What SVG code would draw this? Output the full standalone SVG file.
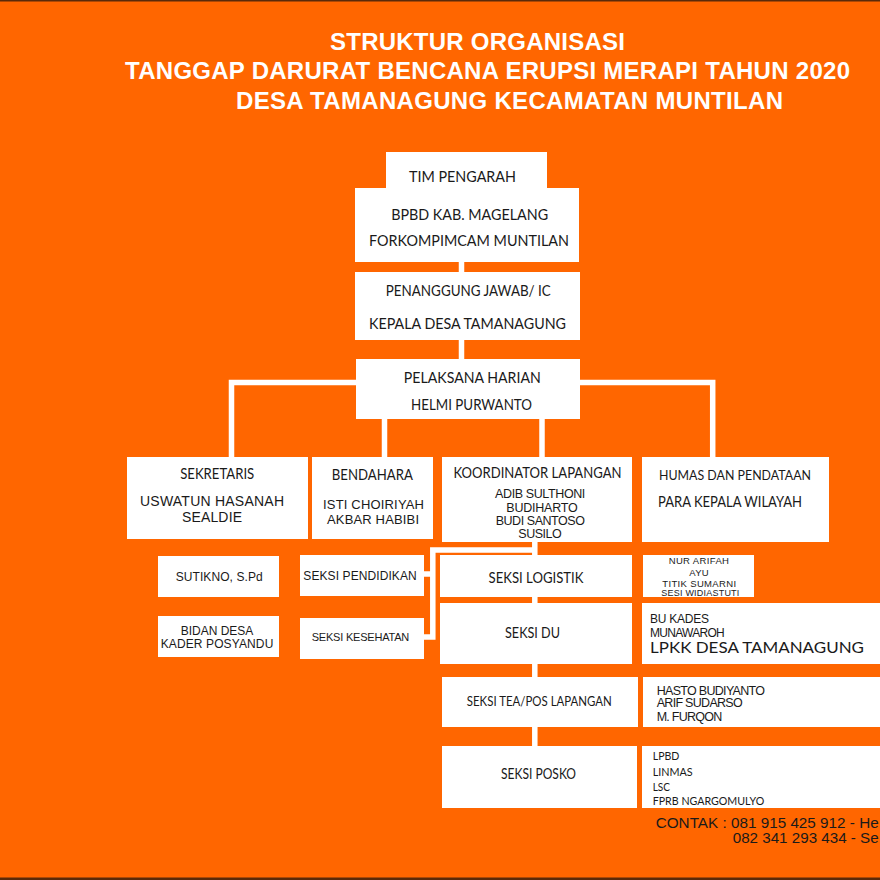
<svg xmlns="http://www.w3.org/2000/svg" width="880" height="880" viewBox="0 0 880 880">
<style>
.bg{fill:#ff6600}
.box{fill:#ffffff}
.c{font-family:Lato,"Open Sans","Noto Sans",sans-serif;fill:#1a1a1a;text-anchor:middle}
.a{font-family:"Liberation Sans",Arial,sans-serif;fill:#1a1a1a;text-anchor:middle}
.l{text-anchor:start}
.t{font-family:"Liberation Sans",Arial,sans-serif;font-weight:bold;fill:#ffffff;font-size:24px}
.link{stroke:#ffffff;stroke-width:5.5;fill:none}
</style>
<rect class="bg" x="0" y="0" width="880" height="880"/>
<rect x="0" y="0" width="880" height="1.5" fill="#5a2a0a"/>
<rect x="0" y="877.5" width="880" height="2.5" fill="#5a2a0a"/>

<g id="title">
<text class="t" x="330" y="50" textLength="295">STRUKTUR ORGANISASI</text>
<text class="t" x="125" y="79.3" textLength="725">TANGGAP DARURAT BENCANA ERUPSI MERAPI TAHUN 2020</text>
<text class="t" x="236" y="109.3" textLength="547">DESA TAMANAGUNG KECAMATAN MUNTILAN</text>
</g>

<g id="connectors">
<path class="link" d="M461.5 260 V274"/>
<path class="link" d="M461.5 338 V361"/>
<path class="link" d="M231.5 459 V382.5 H712.7 V459"/>
<path class="link" d="M384.5 417 V459"/>
<path class="link" d="M542 417 V459"/>
<path class="link" d="M534.8 540 V748"/>
<path class="link" d="M535 550 H432.8 V637 H422"/>
<path class="link" d="M432.8 574 H422"/>
</g>

<g id="tim-pengarah">
<rect class="box" x="386" y="152" width="161" height="37"/>
<rect class="box" x="355" y="188" width="224" height="74"/>
<text class="c" x="462.5" y="181.7" font-size="15.5" textLength="107" lengthAdjust="spacingAndGlyphs">TIM PENGARAH</text>
<text class="c" x="469.7" y="220" font-size="15.5" textLength="157" lengthAdjust="spacingAndGlyphs">BPBD KAB. MAGELANG</text>
<text class="c" x="469" y="246" font-size="15.5" textLength="200" lengthAdjust="spacingAndGlyphs">FORKOMPIMCAM MUNTILAN</text>
</g>

<g id="penanggung-jawab">
<rect class="box" x="355" y="272" width="225" height="68"/>
<text class="c" x="468.3" y="296" font-size="14.5" textLength="165" lengthAdjust="spacingAndGlyphs">PENANGGUNG JAWAB/ IC</text>
<text class="c" x="467.5" y="329.3" font-size="15.5" textLength="197" lengthAdjust="spacingAndGlyphs">KEPALA DESA TAMANAGUNG</text>
</g>

<g id="pelaksana-harian">
<rect class="box" x="356" y="359" width="224" height="60"/>
<text class="c" x="472.3" y="383.3" font-size="15" textLength="137" lengthAdjust="spacingAndGlyphs">PELAKSANA HARIAN</text>
<text class="c" x="471.5" y="410" font-size="14.5" textLength="121" lengthAdjust="spacingAndGlyphs">HELMI PURWANTO</text>
</g>

<g id="sekretaris">
<rect class="box" x="127" y="457" width="181" height="82"/>
<text class="c" x="217.2" y="479" font-size="14.5" textLength="74" lengthAdjust="spacingAndGlyphs">SEKRETARIS</text>
<text class="a" x="212" y="505.7" font-size="14" textLength="144">USWATUN HASANAH</text>
<text class="a" x="212" y="521.7" font-size="14" textLength="60">SEALDIE</text>
</g>

<g id="bendahara">
<rect class="box" x="312" y="457" width="121" height="82"/>
<text class="c" x="372.3" y="480" font-size="14.5" textLength="81" lengthAdjust="spacingAndGlyphs">BENDAHARA</text>
<text class="a" x="373.5" y="509.3" font-size="13" textLength="101">ISTI CHOIRIYAH</text>
<text class="a" x="373" y="524.3" font-size="13" textLength="92">AKBAR HABIBI</text>
</g>

<g id="koordinator-lapangan">
<rect class="box" x="442" y="457" width="190" height="85"/>
<text class="c" x="537.5" y="478.3" font-size="14.5" textLength="168" lengthAdjust="spacingAndGlyphs">KOORDINATOR LAPANGAN</text>
<text class="a" x="540.2" y="498.3" font-size="12.5" textLength="90.3">ADIB SULTHONI</text>
<text class="a" x="542" y="512.3" font-size="12.5" textLength="71.4">BUDIHARTO</text>
<text class="a" x="540.3" y="525" font-size="12.5" textLength="89.3">BUDI SANTOSO</text>
<text class="a" x="540" y="537.7" font-size="12.5" textLength="43.4">SUSILO</text>
</g>

<g id="humas">
<rect class="box" x="642" y="457" width="187" height="85"/>
<text class="c" x="735" y="480" font-size="14" textLength="152" lengthAdjust="spacingAndGlyphs">HUMAS DAN PENDATAAN</text>
<text class="c" x="730" y="506.7" font-size="15" textLength="144" lengthAdjust="spacingAndGlyphs">PARA KEPALA WILAYAH</text>
</g>

<g id="sutikno">
<rect class="box" x="158" y="556" width="121" height="41"/>
<text class="a" x="219.2" y="581" font-size="12" textLength="87">SUTIKNO, S.Pd</text>
</g>

<g id="bidan-desa">
<rect class="box" x="158" y="616" width="121" height="41"/>
<text class="a" x="217" y="635" font-size="12" textLength="72.6">BIDAN DESA</text>
<text class="a" x="217" y="648.3" font-size="12" textLength="112.6">KADER POSYANDU</text>
</g>

<g id="seksi-pendidikan">
<rect class="box" x="300" y="555" width="124" height="41"/>
<text class="a" x="360" y="580" font-size="12" textLength="113.4">SEKSI PENDIDIKAN</text>
</g>

<g id="seksi-kesehatan">
<rect class="box" x="300" y="618" width="124" height="41"/>
<text class="a" x="360.5" y="641" font-size="11" textLength="97.6">SEKSI KESEHATAN</text>
</g>

<g id="seksi-logistik">
<rect class="box" x="440" y="555" width="192" height="42"/>
<text class="c" x="536" y="582.7" font-size="14.5" textLength="95" lengthAdjust="spacingAndGlyphs">SEKSI LOGISTIK</text>
</g>

<g id="logistik-anggota">
<rect class="box" x="643" y="555" width="111" height="42"/>
<text class="a" x="698.8" y="564" font-size="9.5" textLength="60.3">NUR ARIFAH</text>
<text class="a" x="699" y="576" font-size="9.5" textLength="19.4">AYU</text>
<text class="a" x="699.2" y="587.3" font-size="9.5" textLength="73.7">TITIK SUMARNI</text>
<text class="a" x="700.3" y="595.7" font-size="9" textLength="78">SESI WIDIASTUTI</text>
</g>

<g id="seksi-du">
<rect class="box" x="440" y="603" width="192" height="61"/>
<text class="c" x="532.5" y="637.7" font-size="14.5" textLength="55" lengthAdjust="spacingAndGlyphs">SEKSI DU</text>
</g>

<g id="du-anggota">
<rect class="box" x="642" y="603" width="238" height="61"/>
<text class="a l" x="650" y="623.3" font-size="12" textLength="59">BU KADES</text>
<text class="a l" x="650" y="636.7" font-size="12" textLength="74.7">MUNAWAROH</text>
<text class="c l" x="650" y="653.3" font-size="15.5" textLength="214" lengthAdjust="spacingAndGlyphs">LPKK DESA TAMANAGUNG</text>
</g>

<g id="seksi-tea">
<rect class="box" x="442" y="677" width="196" height="50"/>
<text class="c" x="539.3" y="706" font-size="13.5" textLength="145" lengthAdjust="spacingAndGlyphs">SEKSI TEA/POS LAPANGAN</text>
</g>

<g id="tea-anggota">
<rect class="box" x="643" y="677" width="237" height="50"/>
<text class="a l" x="656.7" y="695" font-size="12.5" textLength="108.3">HASTO BUDIYANTO</text>
<text class="a l" x="656.7" y="707.3" font-size="12.5" textLength="86">ARIF SUDARSO</text>
<text class="a l" x="656.7" y="720.7" font-size="12.5" textLength="65.6">M. FURQON</text>
</g>

<g id="seksi-posko">
<rect class="box" x="442" y="746" width="195" height="62"/>
<text class="c" x="538.5" y="779.3" font-size="14.5" textLength="75" lengthAdjust="spacingAndGlyphs">SEKSI POSKO</text>
</g>

<g id="posko-anggota">
<rect class="box" x="642" y="746" width="238" height="62"/>
<text class="c l" x="652.7" y="760" font-size="12" textLength="26.7" lengthAdjust="spacingAndGlyphs">LPBD</text>
<text class="c l" x="652.7" y="776" font-size="12" textLength="40" lengthAdjust="spacingAndGlyphs">LINMAS</text>
<text class="c l" x="652.7" y="790.7" font-size="12" textLength="17.3" lengthAdjust="spacingAndGlyphs">LSC</text>
<text class="c l" x="652.7" y="805" font-size="12" textLength="111.6" lengthAdjust="spacingAndGlyphs">FPRB NGARGOMULYO</text>
</g>

<g id="contak">
<text class="a l" x="655.7" y="828.3" font-size="14.6" textLength="223" lengthAdjust="spacingAndGlyphs">CONTAK : 081 915 425 912 - He</text>
<text class="a l" x="732.7" y="843.3" font-size="14.6" textLength="146" lengthAdjust="spacingAndGlyphs">082 341 293 434 - Se</text>
</g>
</svg>
